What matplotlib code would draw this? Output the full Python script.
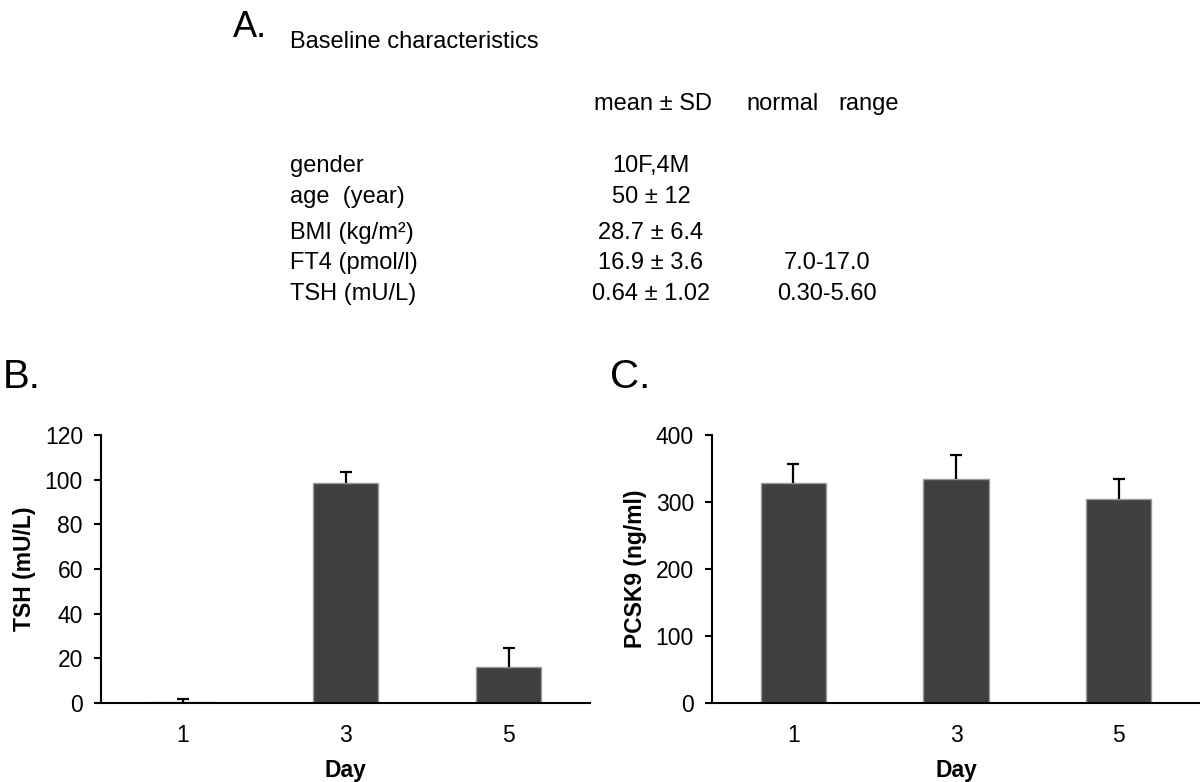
import matplotlib.pyplot as plt

plt.rcParams['font.family'] = ['Liberation Sans', 'DejaVu Sans']

# baseline table (panel A)
row_labels = ['gender', 'age  (year)', 'BMI (kg/m²)', 'FT4 (pmol/l)', 'TSH (mU/L)']
row_values = ['10F,4M', '50 ± 12', '28.7 ± 6.4', '16.9 ± 3.6', '0.64 ± 1.02']
row_ranges = ['', '', '', '7.0-17.0', '0.30-5.60']

# bar panels
days = ['1', '3', '5']
tsh_mean = [0.5, 98.4, 16.3]
tsh_err = [1.3, 5.0, 8.2]
pcsk9_mean = [329, 334, 304]
pcsk9_err = [27, 36, 30]

W, H = 1200, 782
fig = plt.figure(figsize=(W / 100, H / 100), dpi=100)


def px(x, y):
    return x / W, 1 - y / H


fs = 16.5
fs_tab = 17

# panel A
fig.text(*px(233, 37), 'A.', fontsize=26, va='baseline', ha='left')
fig.text(*px(290, 48), 'Baseline characteristics', fontsize=fs_tab, va='baseline')
fig.text(*px(594, 110), 'mean ± SD', fontsize=fs_tab, va='baseline')
fig.text(*px(746, 110), 'normal', fontsize=fs_tab, va='baseline')
fig.text(*px(838, 110), 'range', fontsize=fs_tab, va='baseline')

baselines = [172, 203, 239, 269, 300]
for lab, val, rng, yb in zip(row_labels, row_values, row_ranges, baselines):
    fig.text(*px(290, yb), lab, fontsize=fs_tab, va='baseline', ha='left')
    fig.text(*px(651, yb), val, fontsize=fs_tab, va='baseline', ha='center')
    if rng:
        fig.text(*px(827, yb), rng, fontsize=fs_tab, va='baseline', ha='center')

fig.text(*px(3, 377), 'B.', fontsize=29, va='center', ha='left')
fig.text(*px(610, 377), 'C.', fontsize=29, va='center', ha='left')


def bar_panel(rect, means, errs, ymax, step, ylabel):
    ax = fig.add_axes(rect)
    x = list(range(len(days)))
    bars = ax.bar(x, means, width=0.4, color='#404040', edgecolor='#9a9a9a', linewidth=1,
                  yerr=[[0] * len(errs), errs], capsize=4,
                  error_kw=dict(elinewidth=1.6, capthick=1.6, ecolor='black'))
    # only the upper cap, like the original
    bars.errorbar.lines[1][0].set_visible(False)
    ax.set_xlim(-0.5, len(days) - 0.5)
    ax.set_ylim(0, ymax)
    ax.set_yticks(range(0, ymax + 1, step))
    ax.set_xticks(x)
    ax.set_xticklabels(days)
    for s in ['top', 'right']:
        ax.spines[s].set_visible(False)
    for s in ['left', 'bottom']:
        ax.spines[s].set_linewidth(1.5)
    ax.tick_params(axis='y', length=5, width=1.5, pad=8, labelsize=fs)
    ax.tick_params(axis='x', length=0, pad=15, labelsize=fs)
    ax.set_xlabel('Day', fontsize=fs, fontweight='bold', labelpad=9)
    ax.set_ylabel(ylabel, fontsize=fs, fontweight='bold', labelpad=6)
    return ax


ax_b = bar_panel([101 / W, 79 / H, 489 / W, 268 / H], tsh_mean, tsh_err, 120, 20, 'TSH (mU/L)')
ax_c = bar_panel([712 / W, 79 / H, 488 / W, 268 / H], pcsk9_mean, pcsk9_err, 400, 100, 'PCSK9 (ng/ml)')

fig.savefig('out.png', dpi=100)
